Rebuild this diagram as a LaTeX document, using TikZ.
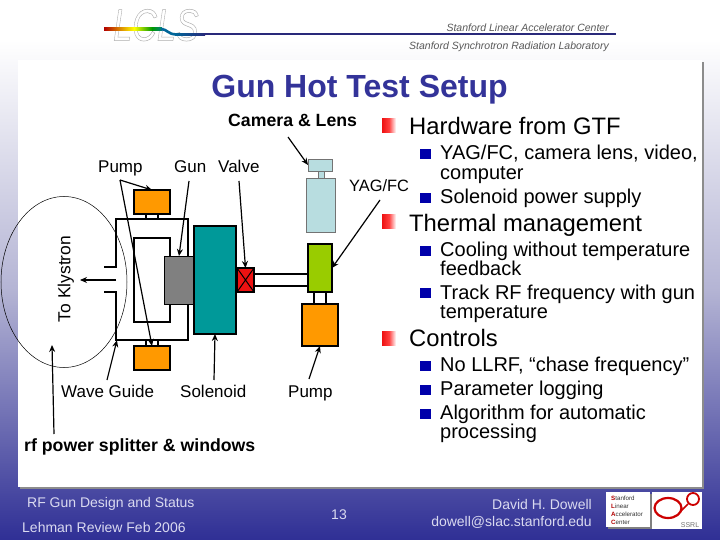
\documentclass[tikz,border=0pt]{standalone}
\usepackage{fontspec}
\setmainfont{Liberation Sans}
\usetikzlibrary{arrows.meta,shadings,shapes.geometric}
\definecolor{navy}{HTML}{333399}
\definecolor{bottomblue}{HTML}{2F2F95}
\definecolor{midback}{HTML}{B4B4D4}
\definecolor{foot}{HTML}{DADAF0}
\definecolor{bulblue}{HTML}{0000AA}
\definecolor{orangeb}{HTML}{FF9900}
\definecolor{tealb}{HTML}{009999}
\definecolor{greenb}{HTML}{99CC00}
\definecolor{lightb}{HTML}{B8DDE0}
\definecolor{redb}{HTML}{EE1111}
\newcommand{\fs}[1]{\fontsize{#1}{#1}\selectfont}
\tikzset{
  x=1pt,y=-1pt,
  partbox/.style={draw=black,line width=1.3pt,inner sep=0pt,outer sep=0pt},
  camparts/.style={draw=black!55,line width=.7pt,fill=lightb,inner sep=0pt,outer sep=0pt},
  pipe/.style={line width=1.3pt,draw=black},
  arr/.style={line width=1.2pt,-{Stealth[length=7pt,width=6pt]}},
  lbl/.style={anchor=mid west,inner sep=0pt,font=\fs{17}},
  bold/.style={anchor=mid west,inner sep=0pt,font=\fs{17.7}\bfseries},
  lone/.style={anchor=mid west,inner sep=0pt,font=\fs{23.8}},
  ltwo/.style={anchor=mid west,inner sep=0pt,font=\fs{20}},
  redbul/.style={inner sep=0pt,minimum width=14pt,minimum height=14pt,left color=redb,right color=white,middle color=red!75,draw=none},
  blubul/.style={inner sep=0pt,minimum width=11pt,minimum height=10pt,fill=bulblue,draw=none},
  footl/.style={inner sep=0pt,text=foot,font=\fs{14}},
  hdr/.style={inner sep=0pt,anchor=mid east,text=black!65,font=\fs{10.5}\itshape},
}
\begin{document}
\begin{tikzpicture}
\useasboundingbox (0,0) rectangle (720,540);
% background
\shade[top color=white,bottom color=bottomblue,middle color=midback] (0,40) rectangle (720,540);
\fill[white] (0,0) rectangle (720,40);
% panel
\fill[black!45] (20,62) rectangle (704,489);
\fill[white] (18,60) rectangle (702,487);
% header logo
\node[inner sep=0pt,anchor=mid west,font=\fs{45}\itshape,text=black!32,xscale=.76] (lcls) at (113,38) {\special{pdf:code 1 Tr 0.5 w}LCLS\special{pdf:code 0 Tr}};
\shade[left color=red!70!black,right color=yellow] (104,27.5) rectangle (134,30.5);
\shade[left color=yellow,right color=green!60!black] (134,27.5) rectangle (152,30.5);
\shade[left color=green!60!black,right color=teal] (152,27.5) rectangle (162,30.5);
\draw[line width=2.6pt,color=teal!80!blue] (161,29) .. controls (167,29) and (168,34.4) .. (176,34.4);
\shade[left color=teal!80!blue,right color=navy!80!black] (175,33.1) rectangle (205,35.7);
\fill[navy!80!black] (205,33.4) rectangle (616,35.4);
\node[hdr] (sl) at (609,29) {Stanford Linear Accelerator Center};
\node[hdr] (ss) at (609,46.5) {Stanford Synchrotron Radiation Laboratory};
% title
\node[inner sep=0pt,text=navy,font=\fs{32}\bfseries] (title) at (359.5,90) {Gun Hot Test Setup};
% ellipse
\node[draw=black,line width=.5pt,ellipse,minimum width=126pt,minimum height=171pt,inner sep=0pt] (klyarea) at (64,282) {};
% waveguide outer
\coordinate (wgA) at (104,267);
\coordinate (wgB) at (104,292);
\draw[pipe] (wgA) -- (116,267) -- (116,219) -- (188,219) -- (188,340) -- (116,340) -- (116,292) -- (wgB);
\node[inner sep=0pt,minimum size=0pt] (wgcorner) at (117,340) {};
\coordinate (wgmouth) at (116,280);
% inner loop
\draw[pipe] (170,256) -- (170,238) -- (134,238) -- (134,322) -- (170,322) -- (170,304);
% pump connectors
\node[partbox,fill=orangeb,minimum width=36pt,minimum height=24pt] (pumpT) at (152,202) {};
\node[partbox,fill=orangeb,minimum width=36pt,minimum height=24pt] (pumpB) at (152,358) {};
\draw[pipe] (146,214) -- (146,219) (158,214) -- (158,219);
\draw[pipe] (146,340) -- (146,346) (158,340) -- (158,346);
% gun, solenoid, valve
\node[partbox,fill=black!50,minimum width=30pt,minimum height=48pt,line width=.8pt] (gun) at (179,280) {};
\node[partbox,fill=tealb,minimum width=42pt,minimum height=108pt] (sol) at (215,280) {};
\node[partbox,fill=redb,minimum width=17pt,minimum height=24pt] (valve) at (245.5,280) {};
\draw[line width=1pt] (valve.south west) -- (valve.north east) (valve.north west) -- (valve.south east);
% pipe
\node[partbox,fill=greenb,minimum width=24pt,minimum height=48pt] (yag) at (320,268) {};
\draw[pipe] (valve.east |- 0,274) -- (yag.west |- 0,274) (valve.east |- 0,286) -- (yag.west |- 0,286);
\node[partbox,fill=orangeb,minimum width=36pt,minimum height=42pt] (pumpR) at (320,325) {};
\draw[pipe] (314,292) -- (314,304) (326,292) -- (326,304);
% camera
\node[camparts,minimum width=29pt,minimum height=54pt] (cambody) at (320.5,205) {};
\node[camparts,minimum width=6pt,minimum height=7pt] (camneck) at (321,174.5) {};
\node[camparts,minimum width=24pt,minimum height=12pt] (camtop) at (320,165) {};
% labels
\node[bold] (lcam) at (228,124) {Camera \& Lens};
\node[lbl] (lpump) at (98,169.5) {Pump};
\node[lbl] (lgun) at (174,169.5) {Gun};
\node[lbl] (lvalve) at (218,169.5) {Valve};
\node[lbl,font=\fs{16.4}] (lyag) at (349,188.5) {YAG/FC};
\node[lbl] (lwave) at (61,394.5) {Wave Guide};
\node[lbl] (lsol) at (180,394.5) {Solenoid};
\node[lbl] (lpr) at (288,394.5) {Pump};
\node[bold] (lrf) at (24,448.5) {rf power splitter \& windows};
\node[inner sep=0pt,rotate=90,font=\fs{17.4}] (lkly) at (66,279) {To Klystron};
% arrows
\coordinate (pumpfrom) at (120,180);
\draw[arr] (pumpfrom) -- (pumpT.north);
\draw[arr] (pumpfrom) -- (pumpB.north);
\coordinate (gunfrom) at (189,181);
\draw[arr] (gunfrom) -- (gun.north);
\coordinate (valvefrom) at (239,181);
\draw[arr] (valvefrom) -- (valve.north);
\coordinate (camfrom) at (288,137);
\draw[arr] (camfrom) -- (camtop.west);
\coordinate (yagfrom) at (380,200);
\draw[arr] (yagfrom) -- (yag.east);
\coordinate (wavefrom) at (107,380);
\draw[arr] (wavefrom) -- (wgcorner);
\coordinate (solfrom) at (214,380);
\draw[arr] (solfrom) -- (sol.south);
\coordinate (pumprfrom) at (309,379);
\draw[arr] (pumprfrom) -- (pumpR.south);
\coordinate (rffrom) at (54,434);
\coordinate (rfto) at (52,345);
\draw[arr] (rffrom) -- (rfto);
\coordinate (klyto) at (80,280);
\draw[arr] (wgmouth) -- (klyto);
% bullets
\node[redbul] (r1) at (389,125.5) {};
\node[redbul] (r2) at (389,221.5) {};
\node[redbul] (r3) at (389,338.5) {};
\node[lone] (t1) at (409,132) {Hardware from GTF};
\node[lone] (t2) at (409,229) {Thermal management};
\node[lone] (t3) at (409,344) {Controls};
\foreach \n/\y in {a/154,b/198,c/251,d/293,e/366,f/390,g/414}
  \node[blubul] (b\n) at (425.5,\y) {};
\node[ltwo] (s1) at (440,157) {YAG/FC, camera lens, video,};
\node[ltwo] (s1b) at (440,177) {computer};
\node[ltwo] (s2) at (440,201) {Solenoid power supply};
\node[ltwo] (s3) at (440,254) {Cooling without temperature};
\node[ltwo] (s3b) at (440,273) {feedback};
\node[ltwo] (s4) at (440,297) {Track RF frequency with gun};
\node[ltwo] (s4b) at (440,316) {temperature};
\node[ltwo] (s5) at (440,369) {No LLRF, “chase frequency”};
\node[ltwo] (s6) at (440,393) {Parameter logging};
\node[ltwo] (s7) at (440,417) {Algorithm for automatic};
\node[ltwo] (s7b) at (440,436) {processing};
% footer
\node[footl,anchor=mid west] (f1) at (27,505) {RF Gun Design and Status};
\node[footl,anchor=mid west] (f2) at (22,530) {Lehman Review Feb 2006};
\node[footl] (f3) at (339,515) {13};
\node[footl,anchor=mid east] (f4) at (592,507) {David H. Dowell};
\node[footl,anchor=mid east] (f5) at (592,524) {dowell@slac.stanford.edu};
% SLAC logo
\fill[black!50] (608,494) rectangle (652,529);
\fill[white] (606,492) rectangle (650,527);
\fill[white] (652,492) rectangle (702,529);
\node[inner sep=0pt,anchor=north west,align=left,font=\fs{6.2},text=black!80] (slac) at (611,495.5) {\textcolor{red!70!black}{\bfseries S}tanford\\[1.8pt]\textcolor{red!70!black}{\bfseries L}inear\\[1.8pt]\textcolor{red!70!black}{\bfseries A}ccelerator\\[1.8pt]\textcolor{red!70!black}{\bfseries C}enter};
\draw[red!80!black,line width=2.2pt] (668,508) ellipse (13.5pt and 10pt);
\draw[red!80!black,line width=1.8pt] (693,499) circle (6pt);
\draw[red!80!black,line width=1.5pt] (688,504) -- (680,512);
\node[inner sep=0pt,font=\fs{7},text=black!55] (ssrl) at (690,525) {SSRL};
\end{tikzpicture}
\end{document}
